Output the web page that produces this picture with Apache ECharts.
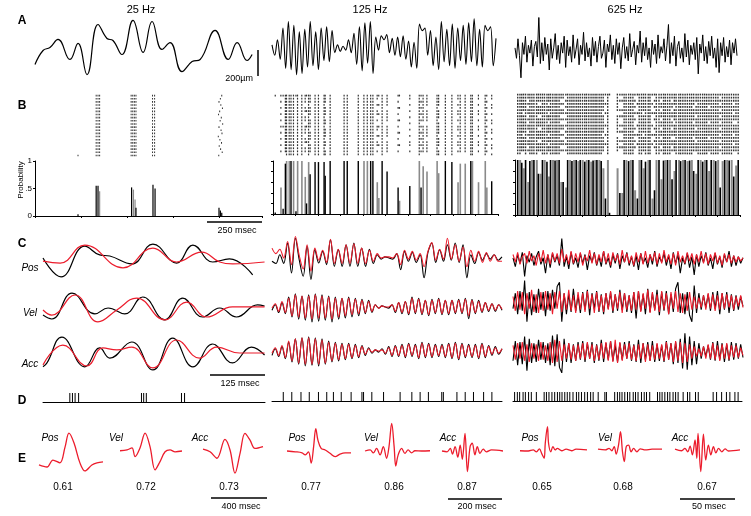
<!DOCTYPE html>
<html>
<head>
<meta charset="utf-8">
<script src="https://cdn.jsdelivr.net/npm/echarts@6/dist/echarts.min.js"></script>
<style>
html,body{margin:0;padding:0;background:#fff;}
#main{width:751px;height:516px;}
</style>
</head>
<body>
<div id="main"></div>
<script>
// ---- column headings ----
var freqs = ['25 Hz', '125 Hz', '625 Hz'];

// ---- A: stimulus (um) ----
var stimT1 = [0,35,65,100,152,187,226,274,313,339,378,426,470,509,552,587,639,683,718,783,840,879,922,944];
var stimV1 = [-131,-23,0,62,-92,31,-208,177,69,54,-54,208,-38,200,-15,38,-185,-108,-92,131,-92,38,-100,-54];
var stimV2 = [20,-60,60,-90,150,-160,200,-170,170,-210,120,-200,140,-150,200,-140,120,-170,150,-100,160,-110,130,-40,
  20,-30,10,-20,60,-40,
  110,-130,160,-180,190,-120,200,-200,80,-20,
  90,60,100,-40,70,-60,80,-70,90,-90,50,-150,40,-160,
  180,130,150,-60,130,-140,80,-170,200,-110,140,-140,180,-160,150,-100,170,-130,190,-110,220,-140,140,-150,170,130,160,-140,70];
var stimV3 = [20,-60,90,-40,-210,60,-30,110,-90,40,-20,80,-120,30,70,-50,270,-100,60,-80,
  100,-30,50,-150,90,-60,20,130,-70,40,-100,60,-20,110,-130,80,-40,30,-90,120,
  -60,10,90,-110,40,-30,140,-80,60,-50,20,-120,100,-40,70,-90,30,110,-60,-20,
  80,-130,50,-10,120,-70,40,-100,90,-30,60,-140,20,100,-60,30,-80,130,-50,10,
  70,-110,40,-20,150,-90,60,-40,100,-70,20,-130,80,-30,50,-100,120,-60,30,-20,
  90,-80,40,200,-100,60,-40,110,-120,30,70,-60,20,-90,130,-50,80,-110,40,-30,
  60,-70,100,-180,50,-20,120,-80,30,-100,70,-40,110,-60,20,-130,90,-170,60,-40,
  100,-90,30,-50,80,-110,60,-20,90,-40];

// ---- B: rasters and spike probability ----
var nTrials = 20;
var raster1Fixed = [266,274,281,418,425,432,439,511,520];
var raster1Late = [812,806,800,808,815,803,798,810,805,816,800,809,813,797,804,811,801,807,814,799];
var raster1Lone = [[187, 19]];
var histBlackT1 = [187,266,274,420,439,513,522,800,806,812];
var histBlackP1 = [0.03,0.55,0.55,0.52,0.15,0.57,0.5,0.15,0.1,0.06];
var histGrayT1 = [281,428,435];
var histGrayP1 = [0.45,0.48,0.3];

var histBlackT2 = [10,45,55,80,102,149,165,187,202,227,232,254,316,330,379,434,444,485,507,556,608,658,766,795,879,972];
var histBlackP2 = [0.03,0.1,0.95,1,0.05,0.2,0.75,0.98,0.98,0.98,0.72,1,1,1,1,1,1,1,0.8,0.5,0.53,0.5,1,0.98,1,0.62];
var histGrayT2 = [35,60,72,91,109,128,143,158,404,419,463,470,562,650,667,684,729,736,822,832,854,886,913,943,950];
var histGrayP2 = [0.5,1,1,1,1,1,0.7,0.98,1,1,0.6,0.3,0.25,1,0.9,0.8,1,0.77,0.6,0.95,0.95,1,0.6,1,0.5];

var histBlackT3 = [12,30,47,66,84,104,122,142,158,178,196,214,234,253,272,290,310,328,347,364,383,402,420,
  466,485,505,524,544,562,580,600,620,640,660,678,698,716,736,756,776,794,814,834,852,872,892,912,932,952,972,992];
var histBlackP3 = [1,0.95,1,0.98,1,0.75,1,0.97,1,0.99,1,0.6,1,0.98,1,1,0.97,1,0.99,1,0.98,0.3,0.04,
  0.4,1,0.98,1,0.3,1,0.97,1,0.45,1,0.99,1,0.65,1,0.98,1,0.99,0.8,1,0.97,1,1,0.98,0.5,1,0.99,0.7,1];
var histGrayT3 = [22,38,58,75,96,113,131,150,168,186,205,226,244,262,281,300,318,338,356,374,392,412,
  455,476,494,514,533,552,571,592,610,628,650,668,688,708,728,746,766,785,805,824,843,862,882,902,922,942,962,982];
var histGrayP3 = [1,0.85,0.6,1,1,0.75,1,0.7,1,1,0.6,0.5,1,1,0.98,1,1,0.97,1,1,0.85,1,
  0.85,0.4,1,1,0.45,1,0.85,1,0.3,1,0.65,1,1,0.8,1,1,0.98,1,0.75,1,1,0.8,1,1,0.98,1,1,0.9];

// ---- C: stimulus (black) vs reconstruction (red), normalized ----
var posT1 = [0,41,95,129,152,202,250,304,341,386,424,477];
var posK1 = [9,-77,63,23,18,-18,72,-14,68,-9,5,-68];
var posRT1 = [0,39,95,182,250,304,361,402,431,504];
var posR1 = [-5,-14,68,-36,54,-9,36,-9,-18,-9];
var velT1 = [0,20,66,118,148,186,227,277,318,363,402,440,488,504];
var velK1 = [-32,-50,68,-27,0,-27,50,-54,45,-41,0,-41,14,9];
var velRT1 = [0,20,73,125,168,213,277,327,372,431,504];
var velR1 = [-9,-32,59,-63,-9,45,-54,27,-41,5,5];
var accT1 = [0,9,43,95,129,152,202,250,295,341,386,431,474,504];
var accK1 = [-63,-45,72,-63,23,-23,50,-77,68,-63,41,-45,27,-9];
var accRT1 = [0,45,100,136,168,202,250,304,356,395,447,504];
var accR1 = [-54,36,-59,23,14,27,-68,59,-23,27,0,0];

var posK2 = [-15,-25,15,-25,68,-68,90,-10,-83,53,-98,38,-23,30,-30,83,-38,38,-38,60,-38,68,-38,45,-38,40,-25,15,-5,5,
  0,-5,20,-53,30,-15,25,-20,15,-90,25,68,-20,38,-15,60,-10,68,-20,60,-90,15,-25,25,-10,20,-5,15,-10,5];
var posR2 = [45,20,40,0,75,-30,98,10,-50,60,-60,45,-10,35,-20,85,-25,40,-25,60,-25,65,-25,45,-25,35,-15,20,0,5,
  5,0,20,-30,35,-5,30,-10,20,-40,30,70,-10,40,-5,90,-5,60,-15,50,-40,35,-15,30,-20,25,-15,15,-15,-15];
var velK2 = [-15,10,-25,20,-30,45,-45,60,-55,50,-60,55,-68,60,-65,55,-60,50,-68,45,-55,40,-50,45,-45,40,-40,35,-30,30,
  -25,10,-5,5,0,-5,10,-25,20,-30,25,-35,45,-30,40,-35,30,-40,35,-30,40,-35,30,-35,30,-30,35,-30,40,-53,
  35,-30,30,-25,20,-20,15,-20,10,-15];
var velR2 = [-5,15,-20,25,-25,40,-40,55,-45,50,-50,50,-55,55,-50,50,-50,45,-55,40,-45,40,-40,40,-35,35,-30,30,-25,25,
  -20,10,-5,5,0,0,10,-20,20,-25,25,-30,40,-25,35,-30,30,-35,30,-25,35,-30,30,-30,30,-25,30,-25,35,-40,
  30,-25,25,-20,20,-15,15,-15,10,-10];
var accK2 = [-20,10,-25,20,-35,40,-50,55,-60,60,-68,65,-65,60,-68,55,-60,45,-50,40,-45,35,-40,35,-35,30,-30,25,-20,15,
  -10,5,-5,10,-15,20,-25,25,-25,30,-30,35,-25,30,-35,40,-30,35,-30,30,-25,30,-30,35,-35,40,-40,35,-30,30,
  -30,30,-35,35,-30,25,-20,20,-15,10];
var accR2 = [-10,15,-20,25,-30,45,-45,55,-55,60,-60,60,-60,55,-60,50,-55,40,-45,35,-40,30,-35,30,-30,25,-25,20,-15,10,
  -5,5,0,5,-10,15,-20,20,-20,25,-25,30,-20,25,-30,35,-25,30,-25,25,-20,25,-25,30,-30,35,-35,30,-25,25,
  -25,25,-30,30,-25,20,-15,15,-10,10];

var posK3 = [10,-30,25,-15,35,-75,20,-10,30,-25,15,40,-20,10,-60,25,-35,30,-10,20,
  -25,98,-30,15,-40,35,-20,10,-35,30,-15,25,-45,20,-10,35,-25,15,-30,40,
  -20,10,-35,25,-15,30,-40,20,-10,35,-25,15,-30,20,-45,30,-15,10,-35,25,
  -20,40,-30,15,-10,30,-25,20,-40,35,-15,25,-60,10,-20,30,-35,15,-68,25,
  -30,20,-10,35,-25,10,-40,30,-20,15,-35,25,-10,40,-30,20,-25,15,-15,10];
var posR3 = [25,-10,35,-20,15,30,-15,40,-5,20,-25,30,-10,45,-15,25,-20,35,-5,30,
  -15,50,-10,25,-20,40,-15,30,-10,35,-25,20,-5,45,-15,30,-20,25,-10,40,
  -15,30,-25,35,-5,25,-20,45,-10,30,-15,20,-25,35,-10,30,-20,40,-15,25,
  -5,35,-20,30,-15,45,-10,25,-20,30,-25,40,-10,20,-15,35,-5,30,-20,25,
  -10,40,-15,30,-20,25,-5,35,-15,20,-25,30,-10,25,-15,20,-10,15,-5,10];
var velK3 = [-30,40,-55,50,-40,98,-90,45,-60,35,-50,60,-35,45,-65,50,-40,55,-30,70,
  90,-90,40,-55,35,-45,60,-40,30,-50,45,-35,55,-60,40,-30,50,-45,35,-55,
  40,-30,45,-50,35,-40,55,-35,40,-45,30,-50,45,-75,50,-40,35,-55,60,-45,
  40,-35,55,-60,45,-40,50,-55,35,-45,60,90,-50,40,-55,45,-60,-90,75,-50,
  40,-35,30,-25,35,-40,45,-30,50,-55,40,-35,45,-50,35,-40,30,-35,25,-20];
var velR3 = [25,-40,50,-35,45,-55,40,-30,55,-45,35,-50,45,-40,50,-35,40,-55,45,-30,
  50,-45,40,-35,55,-40,30,-50,45,-35,40,-45,50,-30,35,-50,45,-40,30,-45,
  40,-35,50,-40,35,-30,45,-50,40,-35,30,-40,45,-35,50,-45,40,-30,55,-50,
  45,-40,35,-45,50,-35,40,-55,45,-30,50,-45,40,-50,35,-40,45,-35,25,-30,
  20,-25,30,-35,40,-30,35,-40,30,-35,40,-30,35,-25,30,-35,25,-20,30,-25];
var accK3 = [-40,50,-60,45,-55,70,-85,60,-50,40,-45,55,-35,45,-50,40,-60,75,-65,80,
  -70,-95,60,-45,40,-50,35,-40,45,-35,50,-45,40,-30,45,-50,35,-40,55,-45,
  40,-35,50,-40,30,-45,40,-35,45,-30,50,-40,35,-45,55,-50,40,-35,45,-40,
  50,-45,35,-40,30,-45,50,-35,40,-55,45,-50,60,-75,85,-80,70,-60,50,-55,
  40,-30,25,-20,30,-35,45,-40,50,-35,40,-45,35,-40,45,-35,40,-30,35,-25];
var accR3 = [30,-35,40,-30,45,-40,35,-45,40,-30,35,-40,45,-35,30,-40,45,-50,55,-45,
  50,-40,35,-30,40,-35,30,-40,35,-30,40,-35,45,-30,35,-40,30,-35,40,-30,
  45,-40,50,-45,55,-50,45,-40,35,-30,40,-35,30,-40,35,-30,40,-45,35,-40,
  30,-35,40,-30,35,-40,45,-35,40,-45,50,-40,45,-50,40,-45,35,-30,25,-20,
  15,-20,25,-30,35,-30,40,-35,30,-40,35,-30,40,-35,30,-25,30,-25,20,-15];

// ---- D: single-trial spike times ----
var spikesD1 = [61,67,73,81,224,229,235,315,322];
var spikesD2 = [49,86,126,162,202,238,267,301,344,391,398,434,485,557,608,644,680,738,745,804,840,876,920,956];
var spikesD3 = [7,19,29,44,54,68,80,102,136,146,157,170,182,194,204,214,226,237,248,262,277,287,299,313,325,339,350,
  372,401,408,444,456,466,476,488,500,510,525,535,546,561,573,583,597,631,641,651,663,675,685,699,710,721,743,
  762,772,797,809,874,889,911,932,947,969,983];

// ---- E: feature filters (ms, arbitrary units) and correlation ----
var filtNames = ['Pos', 'Vel', 'Acc'];
var filters = [
  [ {t:[0,57,99,149,185,213,249,291,327,376,412,455], v:[-54,-62,-35,-46,15,69,31,-46,-77,-54,-46,-42]},
    {t:[0,50,85,107,142,178,213,249,284,320,355,391,440], v:[1,4,12,-22,12,69,17,-73,-41,-3,4,-3,0]},
    {t:[0,50,99,156,192,227,263,298,334,369,426], v:[7,-3,-28,45,4,-86,-9,68,42,10,17]} ],
  [ {t:[0,31,56,68,80,90,99,107,115,127,142,160,179,197,216,238], v:[0,-3,-7,-15,-3,-47,17,87,42,10,4,-9,-22,-12,-7,-7]},
    {t:[0,19,31,43,56,68,80,89,99,108,114,123,136,148,160,173,185,210,241], v:[0,4,-7,10,-15,17,-28,17,107,17,-58,-15,10,-9,4,-7,1,0,1]},
    {t:[0,19,31,39,49,59,68,76,86,95,105,113,123,132,142,154,166,185,228], v:[0,-3,10,-12,17,-24,23,-32,68,-80,17,30,-15,17,-9,7,-3,4,0]} ],
  [ {t:[0,7.6,12,15,17.6,20,22,23,25,26,28,30,32,34,38,42,47,51,61], v:[1,0,4,-3,8,-12,-28,30,94,30,-3,17,4,10,1,7,1,7,4]},
    {t:[0,6.6,10,12.5,14.7,16.5,18.6,20.4,22.2,23.8,25.6,27.7,30,32.3,35.3,38.3,42.9,49,58], v:[7,4,10,1,17,-12,23,75,-3,-41,17,23,-3,10,-3,8,4,7,7]},
    {t:[0,6,9,11.6,13.7,15.8,18.2,19.8,20.9,23.4,25.8,27.9,30.3,32.5,34.9,37.1,39.5,42.5,45.5,48.5,59], v:[7,1,10,-3,19,-15,43,-28,68,-80,65,-35,23,-15,17,-7,10,-3,8,0,4]} ]
];
var corr = [[0.61,0.72,0.73],[0.77,0.86,0.87],[0.65,0.68,0.67]];

// ---- scale bars ----
var scaleBars = ['250 msec', '125 msec', '400 msec', '200 msec', '50 msec'];

var RED = '#ec1c2c';
var GRAY = '#8a8a8a';
var LF = '"Liberation Sans", Arial, sans-serif';

var grids = [], xAxes = [], yAxes = [], series = [], gfx = [];

function panel(left, top, width, height, xr, yr, xo, yo, inv) {
    var i = grids.length;
    grids.push({left: left, top: top, width: width, height: height});
    xAxes.push(Object.assign({type: 'value', gridIndex: i, min: xr[0], max: xr[1], show: !!xo,
        splitLine: {show: false}}, xo || {}));
    yAxes.push(Object.assign({type: 'value', gridIndex: i, min: yr[0], max: yr[1], show: !!yo,
        inverse: !!inv, splitLine: {show: false}}, yo || {}));
    return i;
}
function trace(gi, xs, ys, color, smooth, w) {
    series.push({
        type: 'line', xAxisIndex: gi, yAxisIndex: gi, silent: true, showSymbol: false,
        smooth: smooth, lineStyle: {color: color, width: w || 1},
        data: ys.map(function (v, k) { return [xs ? xs[k] : k, v]; })
    });
}
function bars(gi, ts, ps, color, bw) {
    series.push({
        type: 'bar', xAxisIndex: gi, yAxisIndex: gi, silent: true, barWidth: bw || 1, barGap: '-100%',
        itemStyle: {color: color},
        data: ts.map(function (t, k) { return [t, ps[k]]; })
    });
}
function dots(gi, data, size) {
    series.push({type: 'scatter', xAxisIndex: gi, yAxisIndex: gi, silent: true, symbol: 'rect',
        symbolSize: size, itemStyle: {color: '#000'}, data: data});
}
// spread spikes of a bin over the trials according to its probability
function rasterData(lists) {
    var d = [];
    lists.forEach(function (l) {
        l[0].forEach(function (t, k) {
            var p = l[1][k];
            for (var j = 0; j < nTrials; j++) {
                if (Math.ceil((j + 1) * p - 1e-9) > Math.ceil(j * p - 1e-9)) d.push([t, j + 0.5]);
            }
        });
    });
    return d;
}
function txt(x, y, s, font, align, rot) {
    gfx.push({type: 'text', x: x, y: y, rotation: rot || 0, silent: true,
        style: {text: s, font: font, fill: '#000', align: align || 'center', verticalAlign: 'middle'}});
}
function seg(x1, y1, x2, y2, w) {
    gfx.push({type: 'line', silent: true, shape: {x1: x1, y1: y1, x2: x2, y2: y2},
        style: {stroke: '#000', lineWidth: w || 1.3}});
}

// headings and panel letters
txt(141, 10, freqs[0], '11px ' + LF);
txt(370, 10, freqs[1], '11px ' + LF);
txt(625, 10, freqs[2], '11px ' + LF);
[['A', 21], ['B', 106], ['C', 244], ['D', 401], ['E', 459]].forEach(function (l) {
    txt(22, l[1], l[0], 'bold 12px ' + LF);
});

// A
var g = panel(35, 15, 230, 65, [0, 1000], [-250, 250]);
trace(g, stimT1, stimV1, '#000', 0.45, 1.2);
g = panel(272, 15, 224, 65, [0, stimV2.length - 1], [-250, 250]);
trace(g, null, stimV2, '#000', 0.35, 1.1);
g = panel(515, 18, 222, 65, [0, stimV3.length - 1], [-250, 250]);
trace(g, null, stimV3, '#000', false, 1);
seg(258, 50, 258, 76, 1.5);
txt(253, 79, '200\u00b5m', '9px ' + LF, 'right');

// B rasters
g = panel(35, 94, 227, 63, [0, 987], [0, nTrials], null, null, true);
var r1 = [];
for (var j = 0; j < nTrials; j++) {
    raster1Fixed.forEach(function (t) { r1.push([t, j + 0.5]); });
    r1.push([raster1Late[j], j + 0.5]);
}
dots(g, r1.concat(raster1Lone.map(function (p) { return [p[0], p[1] + 0.5]; })), [1, 1.6]);
g = panel(273, 94, 225, 62, [0, 1000], [0, nTrials], null, null, true);
dots(g, rasterData([[histBlackT2, histBlackP2], [histGrayT2, histGrayP2]]), [1.2, 1.8]);
g = panel(515, 93, 225, 62, [0, 1000], [0, nTrials], null, null, true);
dots(g, rasterData([[histBlackT3, histBlackP3], [histGrayT3, histGrayP3]]), [1.4, 1.8]);

// B histograms
var axX = function (iv) {
    return {axisLine: {lineStyle: {color: '#000', width: 1}}, axisTick: {length: 2, interval: 0, lineStyle: {color: '#000'}},
        axisLabel: {show: false}, interval: iv};
};
g = panel(35, 161, 227, 55, [0, 987], [0, 1], axX(200), {
    interval: 0.5,
    axisLine: {show: true, lineStyle: {color: '#000', width: 1}},
    axisTick: {show: true, length: 2, lineStyle: {color: '#000'}},
    axisLabel: {fontSize: 8, fontFamily: 'Liberation Sans', color: '#000', margin: 3,
        formatter: function (v) { return v === 0.5 ? '.5' : String(v); }}
});
bars(g, histGrayT1, histGrayP1, GRAY, 1.2);
bars(g, histBlackT1, histBlackP1, '#000', 1.2);
txt(21, 180, 'Probability', '8px ' + LF, 'center', Math.PI / 2);
var axY = {interval: 0.2, axisLine: {show: true, lineStyle: {color: '#000', width: 1}},
    axisTick: {show: true, length: 2, lineStyle: {color: '#000'}}, axisLabel: {show: false}};
g = panel(273, 161, 225, 53, [0, 1000], [0, 1], axX(100), axY);
bars(g, histGrayT2, histGrayP2, GRAY, 1.6);
bars(g, histBlackT2, histBlackP2, '#000', 1.4);
g = panel(515, 160, 225, 55, [0, 1000], [0, 1], axX(100), axY);
bars(g, histGrayT3, histGrayP3, GRAY, 2);
bars(g, histBlackT3, histBlackP3, '#000', 1.6);
seg(207, 222, 262, 222, 1.5);
txt(237, 231, scaleBars[0], '9px ' + LF);

// C
var cy = [[238, 286, 331], [236, 285, 329], [238, 280, 330]];
var c1 = [[posT1, posK1, posRT1, posR1], [velT1, velK1, velRT1, velR1], [accT1, accK1, accRT1, accR1]];
var c2 = [[posK2, posR2], [velK2, velR2], [accK2, accR2]];
var c3 = [[posK3, posR3], [velK3, velR3], [accK3, accR3]];
var cLab = [268, 313, 364];
for (var r = 0; r < 3; r++) {
    g = panel(43, cy[0][r], 222, 44, [0, 505], [-100, 100]);
    trace(g, c1[r][0], c1[r][1], '#000', 0.45, 1.2);
    trace(g, c1[r][2], c1[r][3], RED, 0.45, 1.2);
    txt(30, cLab[r], filtNames[r], 'italic 10px ' + LF);
    g = panel(272, cy[1][r], 230, 44, [0, c2[r][0].length - 1], [-100, 100]);
    trace(g, null, c2[r][0], '#000', 0.35, 1.1);
    trace(g, null, c2[r][1], RED, 0.35, 1.1);
    g = panel(513, cy[2][r], 230, 44, [0, c3[r][0].length - 1], [-100, 100]);
    trace(g, null, c3[r][0], '#000', false, 1.1);
    trace(g, null, c3[r][1], RED, false, 1.1);
}
seg(210, 375, 265, 375, 1.5);
txt(240, 384, scaleBars[1], '9px ' + LF);

// D
var dAx = {axisLine: {lineStyle: {color: '#000', width: 1}}, axisTick: {show: false}, axisLabel: {show: false}};
g = panel(43, 393, 222, 9, [0, 505], [0, 1], dAx);
bars(g, spikesD1, spikesD1.map(function () { return 1; }), '#000');
g = panel(272, 392, 230, 9, [0, 1000], [0, 1], dAx);
bars(g, spikesD2, spikesD2.map(function () { return 1; }), '#000');
g = panel(513, 392, 229, 9, [0, 1000], [0, 1], dAx);
bars(g, spikesD3, spikesD3.map(function () { return 1; }), '#000');

// E
var eBox = [[[39, 64], [120, 62], [203, 60]], [[287, 64], [365, 65], [442, 61]], [[520, 67], [598, 64], [675, 65]]];
var eLab = [[50, 116, 200], [297, 371, 448], [530, 605, 680]];
var eVal = [[63, 146, 229], [311, 394, 467], [542, 623, 707]];
for (var c = 0; c < 3; c++) {
    for (var k = 0; k < 3; k++) {
        var f = filters[c][k];
        g = panel(eBox[c][k][0], 420, eBox[c][k][1], 62, [0, f.t[f.t.length - 1]], [-120, 120]);
        trace(g, f.t, f.v, RED, 0.35, 1.3);
        txt(eLab[c][k], 438, filtNames[k], 'italic 10px ' + LF);
        txt(eVal[c][k], 487, corr[c][k].toFixed(2), '10px ' + LF);
    }
}
seg(211, 498, 267, 498, 1.5);
txt(241, 507, scaleBars[2], '9px ' + LF);
seg(448, 499, 502, 499, 1.5);
txt(477, 507, scaleBars[3], '9px ' + LF);
seg(680, 499, 735, 499, 1.5);
txt(709, 507, scaleBars[4], '9px ' + LF);

var chart = echarts.init(document.getElementById('main'));
chart.setOption({
    animation: false,
    backgroundColor: '#fff',
    grid: grids,
    xAxis: xAxes,
    yAxis: yAxes,
    series: series,
    graphic: gfx
});
</script>
</body>
</html>
